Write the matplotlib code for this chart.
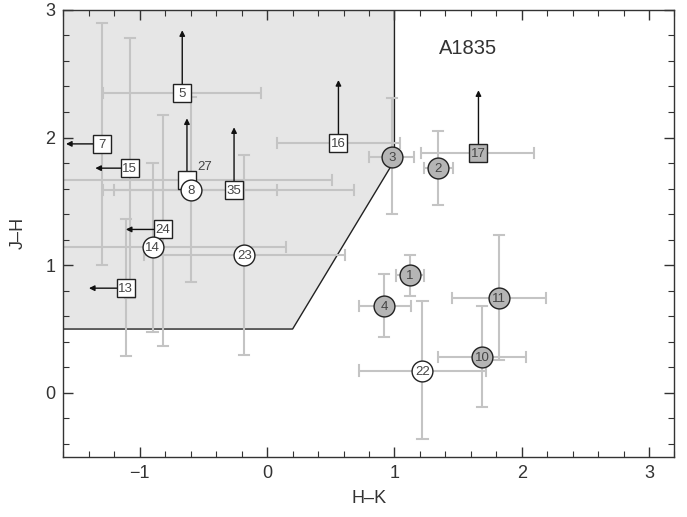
import matplotlib
matplotlib.use("Agg")
import matplotlib.pyplot as plt
from matplotlib.patches import Polygon
from matplotlib.ticker import MultipleLocator

plt.rcParams["font.family"] = ["Liberation Sans", "DejaVu Sans"]

# detected sources: id, H-K, J-H, error ranges (low, high)
circ_ids = ["1", "2", "3", "4", "10", "11", "8", "14", "23", "22"]
circ_hk = [1.12, 1.34, 0.98, 0.92, 1.69, 1.82, -0.60, -0.90, -0.18, 1.22]
circ_jh = [0.92, 1.76, 1.85, 0.68, 0.28, 0.745, 1.59, 1.14, 1.08, 0.175]
circ_hk_lo = [1.01, 1.23, 0.80, 0.72, 1.34, 1.45, -1.29, -1.90, -0.97, 0.72]
circ_hk_hi = [1.23, 1.46, 1.15, 1.13, 2.03, 2.19, 0.08, 0.15, 0.61, 1.72]
circ_jh_lo = [0.76, 1.47, 1.40, 0.44, -0.11, 0.26, 0.87, 0.48, 0.30, -0.36]
circ_jh_hi = [1.08, 2.05, 2.31, 0.93, 0.68, 1.24, 2.32, 1.80, 1.86, 0.72]
circ_gray = [True, True, True, True, True, True, False, False, False, False]

# sources with limits: arrows point to the limit value
sq_ids = ["5", "7", "15", "24", "13", "16", "27", "35", "17"]
sq_hk = [-0.667, -1.30, -1.08, -0.82, -1.11, 0.56, -0.63, -0.26, 1.66]
sq_jh = [2.35, 1.95, 1.76, 1.28, 0.82, 1.96, 1.67, 1.59, 1.88]
sq_arrow_hk = [None, -1.58, -1.35, -1.11, -1.40, None, None, None, None]
sq_arrow_jh = [2.84, None, None, None, None, 2.45, 2.15, 2.08, 2.37]
sq_hk_range = [(-1.29, -0.05), None, None, None, None, (0.08, 1.04),
               (-1.90, 0.51), (-1.20, 0.68), (1.21, 2.10)]
sq_jh_range = [None, (1.00, 2.90), (0.74, 2.78), (0.37, 2.18), (0.29, 1.36),
               None, None, None, None]
sq_gray = [False] * 8 + [True]

# region occupied by foreground/field objects
region_hk = [-1.6, 1.0, 1.0, 0.2, -1.6]
region_jh = [3.0, 3.0, 1.82, 0.5, 0.5]

ebar_col = "#c4c4c4"
gray_fill = "#b5b5b5"
edge_col = "#222222"
num_col = "#444444"
text_col = "#333333"

fig = plt.figure(figsize=(6.87, 5.17), dpi=100)
ax = fig.add_axes([0.0924, 0.1166, 0.8894, 0.8644])

ax.add_patch(Polygon(list(zip(region_hk, region_jh)), closed=True,
                     facecolor="#e6e6e6", edgecolor="none", zorder=0))
ax.plot(region_hk[1:], region_jh[1:], color="#222222", lw=1.0, zorder=1)


def err_h(y, lo, hi):
    ax.plot([lo, hi], [y, y], color=ebar_col, lw=1.5, zorder=2,
            solid_capstyle="butt")
    for v in (lo, hi):
        ax.plot([v, v], [y - 0.04, y + 0.04], color=ebar_col, lw=1.5, zorder=2)


def err_v(x, lo, hi):
    ax.plot([x, x], [lo, hi], color=ebar_col, lw=1.5, zorder=2,
            solid_capstyle="butt")
    for v in (lo, hi):
        ax.plot([x - 0.04, x + 0.04], [v, v], color=ebar_col, lw=1.5, zorder=2)


def number(x, y, s):
    # digits have no descender, so nudge down a little to sit centred
    ax.annotate(s, (x, y), xytext=(0, -0.7), textcoords="offset points",
                fontsize=9.5, color=num_col, ha="center", va="center",
                zorder=6)


for i in range(len(circ_ids)):
    err_h(circ_jh[i], circ_hk_lo[i], circ_hk_hi[i])
    err_v(circ_hk[i], circ_jh_lo[i], circ_jh_hi[i])

for i in range(len(sq_ids)):
    if sq_hk_range[i]:
        err_h(sq_jh[i], *sq_hk_range[i])
    if sq_jh_range[i]:
        err_v(sq_hk[i], *sq_jh_range[i])

arrow_kw = dict(arrowstyle="-|>", color="#111111", lw=1.0,
                mutation_scale=8, shrinkA=0, shrinkB=0)
for i in range(len(sq_ids)):
    x, y = sq_hk[i], sq_jh[i]
    if sq_arrow_hk[i] is not None:
        ax.annotate("", xy=(sq_arrow_hk[i], y), xytext=(x, y),
                    arrowprops=arrow_kw, zorder=3)
    if sq_arrow_jh[i] is not None:
        ax.annotate("", xy=(x, sq_arrow_jh[i]), xytext=(x, y),
                    arrowprops=arrow_kw, zorder=3)

for i in range(len(sq_ids)):
    fc = gray_fill if sq_gray[i] else "white"
    ax.plot(sq_hk[i], sq_jh[i], marker="s", ms=13, mfc=fc, mec=edge_col,
            mew=1.0, zorder=4)
    if sq_ids[i] == "27":
        number(sq_hk[i] + 0.14, sq_jh[i] + 0.11, "27")
    else:
        number(sq_hk[i], sq_jh[i], sq_ids[i])

for i in range(len(circ_ids)):
    fc = gray_fill if circ_gray[i] else "white"
    ax.plot(circ_hk[i], circ_jh[i], marker="o", ms=15, mfc=fc, mec=edge_col,
            mew=1.0, zorder=5)
    number(circ_hk[i], circ_jh[i], circ_ids[i])

ax.text(1.58, 2.7, "A1835", fontsize=14.5, color=text_col,
        ha="center", va="center")

ax.set_xlim(-1.6, 3.2)
ax.set_ylim(-0.5, 3.0)
ax.xaxis.set_major_locator(MultipleLocator(1))
ax.xaxis.set_minor_locator(MultipleLocator(0.2))
ax.yaxis.set_major_locator(MultipleLocator(1))
ax.yaxis.set_minor_locator(MultipleLocator(0.2))
ax.tick_params(which="both", direction="in", top=True, right=True,
               colors=text_col, labelsize=13, labelcolor=text_col)
ax.tick_params(which="major", length=7, width=1.0, pad=6)
ax.tick_params(which="minor", length=4, width=0.8)
for s in ax.spines.values():
    s.set_color(text_col)
    s.set_linewidth(1.0)

ax.set_xlabel("H–K", fontsize=13, color=text_col, labelpad=6)
ax.set_ylabel("J–H", fontsize=13, color=text_col, labelpad=13)

fig.savefig("out.png", dpi=100)
